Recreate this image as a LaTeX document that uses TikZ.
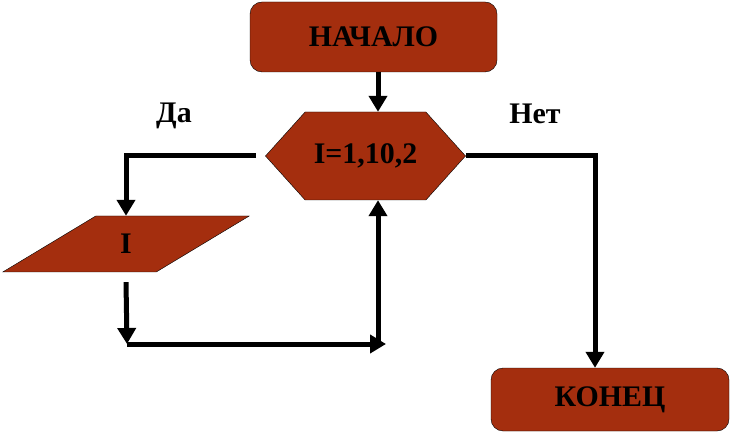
\documentclass[tikz,border=0pt]{standalone}
\usepackage{fontspec}
\setmainfont{Liberation Serif}
\usetikzlibrary{arrows.meta,shapes.geometric,shapes.symbols}
\definecolor{brick}{RGB}{164,46,14}
\tikzset{line/.style={draw, line width=5bp, -{Triangle[width=18bp,length=16bp]}}}

\begin{document}
\begin{tikzpicture}[x=1bp, y=-1bp, font=\fontsize{30}{33}\selectfont\bfseries]
\tikzstyle{block} = [rectangle, rounded corners=12bp, draw, thin, fill=brick]
\tikzstyle{cycle} = [signal, signal to=east and west, signal pointer angle=96, draw, thin, fill=brick, minimum width=200bp, minimum height=88bp]
\tikzstyle{input} = [trapezium, trapezium left angle=43, trapezium right angle=137, trapezium stretches=true, draw, thin, fill=brick, minimum width=248bp, minimum height=56bp]
\tikzstyle{label} = [inner sep=0pt, anchor=base]

\useasboundingbox (0,0) rectangle (730,438);

\node [block, minimum width=247bp, minimum height=70bp] (start) at (373.5,37) {НАЧАЛО};
\node [cycle] (loop) at (365.5,156) {I=1,10,2};
\node [input] (body) at (126,244) {I};
\node [block, minimum width=238bp, minimum height=63bp] (finish) at (610,399.5) {КОНЕЦ};

\node [label] (yes) at (174,123) {Да};
\node [label] (no) at (535,124) {Нет};

\coordinate (riser) at (378,344);
\coordinate (low) at (127,344);

\path [line] (start.south -| riser) -- (loop.north -| riser);
\path [line] ([xshift=-9bp]loop.west) -| (body.north);
\path [line] ([yshift=-10bp]body.south) -- (low);
\path [line] (low) -- ([xshift=8bp]riser);
\path [line] (riser) -- (loop.south -| riser);
\path [line] (loop.east) -| ([xshift=-15bp]finish.north);

\end{tikzpicture}
\end{document}
